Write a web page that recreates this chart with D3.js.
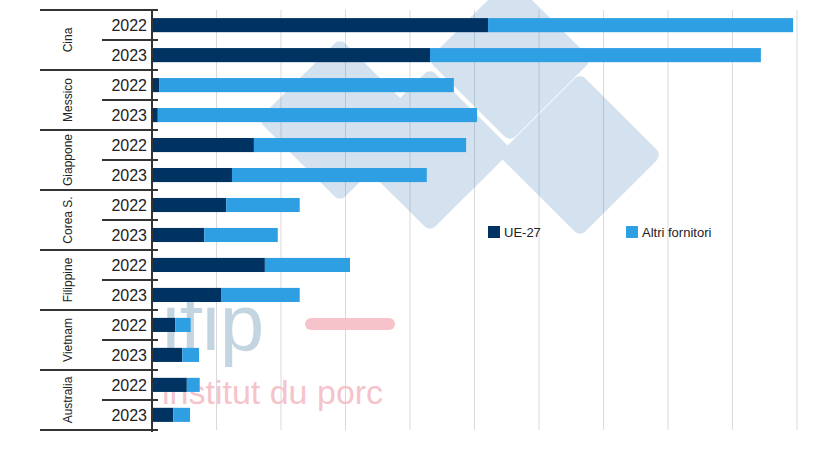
<!DOCTYPE html><html><head><meta charset="utf-8"><script src="https://cdn.jsdelivr.net/npm/d3@7"></script>
<style>body{margin:0;background:#fff}text{font-family:"Liberation Sans",Arial,sans-serif}</style></head><body><svg id="c" width="820" height="461"></svg>
<script>
(function(){
const countries=["Cina","Messico","Giappone","Corea S.","Filippine","Vietnam","Australia"];
const years=["2022","2023"];
const ue27=[5.21,4.31,0.11,0.09,1.58,1.24,1.15,0.81,1.75,1.07,0.36,0.47,0.54,0.33];
const totale=[9.94,9.44,4.68,5.04,4.87,4.26,2.29,1.95,3.07,2.29,0.60,0.73,0.74,0.59];
const seriesNames=["UE-27","Altri fornitori"];
const colors=["#003361","#2f9fe3"];
const svg=d3.select("#c");
const rows=[];countries.forEach(c=>years.forEach(y=>rows.push(c+"|"+y)));
const x=d3.scaleLinear().domain([0,10]).range([152,797]);
const y=d3.scaleBand().domain(rows).range([10,430]).paddingInner(0.53).paddingOuter(0.27);
svg.append("g").selectAll("line").data(d3.range(1,11)).join("line")
 .attr("x1",d=>x(d)).attr("x2",d=>x(d)).attr("y1",10).attr("y2",430).attr("stroke","#d9d9d9");
const wm=svg.append("g").attr("opacity",0.2);
[[340,120],[430,150],[510,60],[580,155]].forEach(([cx,cy])=>{
 wm.append("rect").attr("x",cx-58).attr("y",cy-58).attr("width",116).attr("height",116).attr("rx",8)
 .attr("transform",`rotate(45,${cx},${cy})`).attr("fill","#2f6fb0");
});
svg.append("text").attr("x",162).attr("y",350).attr("font-size",80).attr("fill","#c3d5e0").text("ifip");
svg.append("rect").attr("x",305).attr("y",318).attr("width",90).attr("height",12).attr("rx",6).attr("fill","#f6c3cb");
svg.append("text").attr("x",162).attr("y",404).attr("font-size",34).attr("fill","#f6c3cb").text("institut du porc");
const g=svg.append("g");
rows.forEach((r,i)=>{
 g.append("rect").attr("x",x(0)).attr("y",y(r)).attr("height",y.bandwidth()).attr("width",x(ue27[i])-x(0)).attr("fill",colors[0]);
 g.append("rect").attr("x",x(ue27[i])).attr("y",y(r)).attr("height",y.bandwidth()).attr("width",x(totale[i])-x(ue27[i])).attr("fill",colors[1]);
});
const t0=10;
svg.append("line").attr("x1",152).attr("x2",152).attr("y1",t0).attr("y2",432).attr("stroke","#333").attr("stroke-width",2);
countries.forEach((c,ci)=>{
 const y0=t0+ci*60;
 svg.append("line").attr("x1",40).attr("x2",158).attr("y1",y0).attr("y2",y0).attr("stroke","#333").attr("stroke-width",2);
 svg.append("line").attr("x1",102).attr("x2",158).attr("y1",y0+30).attr("y2",y0+30).attr("stroke","#333").attr("stroke-width",2);
 svg.append("text").attr("transform",`translate(72,${y0+30}) rotate(-90)`).attr("text-anchor","middle").attr("font-size",12).attr("fill","#222").text(c);
});
svg.append("line").attr("x1",40).attr("x2",158).attr("y1",430).attr("y2",430).attr("stroke","#333").attr("stroke-width",2);
rows.forEach(r=>{
 svg.append("text").attr("x",147).attr("y",y(r)+y.bandwidth()/2+6).attr("text-anchor","end").attr("font-size",16).attr("fill","#222").text(r.split("|")[1]);
});
const lx=[488,626];
seriesNames.forEach((s,i)=>{
 svg.append("rect").attr("x",lx[i]).attr("y",226).attr("width",12).attr("height",12).attr("fill",colors[i]);
 svg.append("text").attr("x",lx[i]+16).attr("y",237).attr("font-size",13).attr("fill","#222").text(s);
});
})();
</script></body></html>
